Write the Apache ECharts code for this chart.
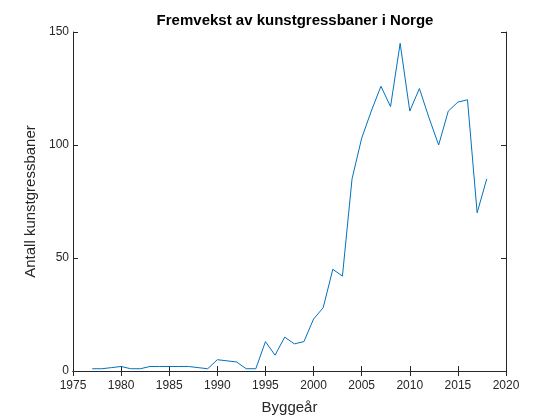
<!DOCTYPE html>
<html>
<head>
<meta charset="utf-8">
<script src="https://cdn.jsdelivr.net/npm/echarts@6/dist/echarts.min.js"></script>
<style>html,body{margin:0;padding:0;background:#fff}#c{width:560px;height:420px}</style>
</head>
<body>
<div id="c"></div>
<script>
const years = [1977,1978,1979,1980,1981,1982,1983,1984,1985,1986,1987,1988,1989,1990,1991,1992,1993,1994,1995,1996,1997,1998,1999,2000,2001,2002,2003,2004,2005,2006,2007,2008,2009,2010,2011,2012,2013,2014,2015,2016,2017,2018];
const counts = [1,1,1.5,2,1,1,2,2,2,2,2,1.5,1,5,4.5,4,1,1,13,7,15,12,13,23,28,45,42,85,103,115,126,117,145,115,125,112,100,115,119,120,70,85];
const xTicks = {min:1975, max:2020, interval:5};
const yTicks = {min:0, max:150, interval:50};

const font = '"Liberation Sans", Arial, sans-serif';
const axisLine = {show:true, lineStyle:{color:'#262626', width:1}};
const tick = {show:true, inside:true, length:5, lineStyle:{color:'#262626'}};
const chart = echarts.init(document.getElementById('c'));
chart.setOption({
  animation:false,
  title:{text:'Fremvekst av kunstgressbaner i Norge', left:290, textAlign:'center', top:8,
    textStyle:{fontFamily:font, fontSize:15, fontWeight:'bold', color:'#000'}},
  grid:{left:73, right:54, top:32, bottom:46},
  xAxis:[{type:'value', min:xTicks.min, max:xTicks.max, interval:xTicks.interval,
    name:'Byggeår', nameLocation:'middle', nameGap:29,
    nameTextStyle:{fontFamily:font, fontSize:15, color:'#262626'},
    axisLine:axisLine, axisTick:tick, splitLine:{show:false},
    axisLabel:{fontFamily:font, fontSize:12, color:'#262626', margin:9, formatter:v=>String(v)}},
   {type:'value', position:'top', min:xTicks.min, max:xTicks.max, interval:xTicks.interval,
    axisLine:axisLine, axisTick:tick, splitLine:{show:false}, axisLabel:{show:false}}],
  yAxis:[{type:'value', min:yTicks.min, max:yTicks.max, interval:yTicks.interval,
    name:'Antall kunstgressbaner', nameLocation:'middle', nameGap:23,
    nameTextStyle:{fontFamily:font, fontSize:15, color:'#262626'},
    axisLine:axisLine, axisTick:tick, splitLine:{show:false},
    axisLabel:{fontFamily:font, fontSize:12, color:'#262626', margin:4, formatter:v=>String(v)}},
   {type:'value', position:'right', min:yTicks.min, max:yTicks.max, interval:yTicks.interval,
    axisLine:axisLine, axisTick:tick, splitLine:{show:false}, axisLabel:{show:false}}],
  series:[{type:'line', data:years.map((y,i)=>[y,counts[i]]), showSymbol:false,
    lineStyle:{color:'#0072BD', width:1}, itemStyle:{color:'#0072BD'}}]
});
</script>
</body>
</html>
